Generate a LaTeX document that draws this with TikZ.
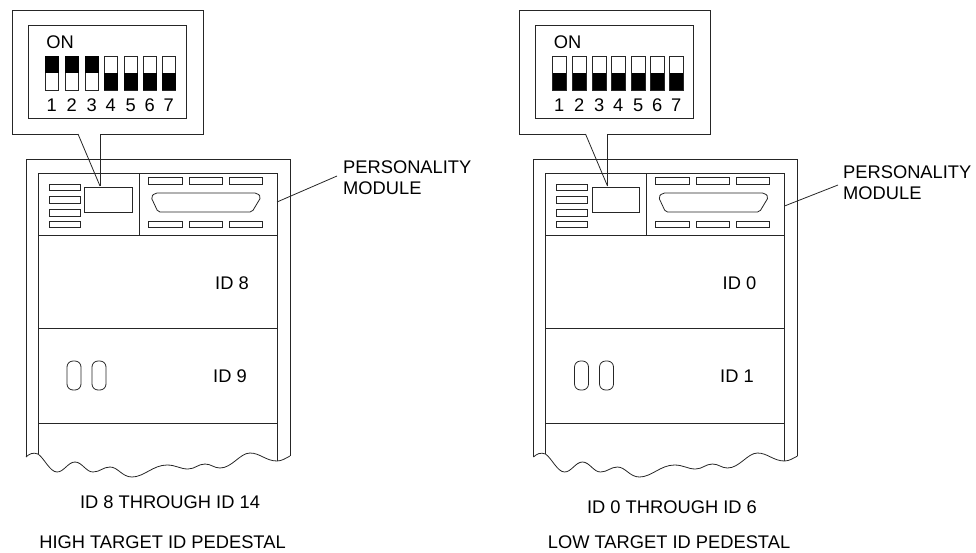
\documentclass[tikz,border=0pt]{standalone}
\usepackage{fontspec}
\setmainfont{Liberation Sans}
\tikzset{
  x=1pt,y=-1pt,
  unitline/.style={draw=black!85,line width=0.8pt},
  slotbox/.style={draw=black!85,line width=0.8pt,fill=white},
  swoff/.style={draw=black!85,line width=0.8pt},
  lab/.style={font=\fontsize{18.3}{20}\selectfont,inner sep=0pt},
}
% one pedestal: callout, module, two drawers, torn edge
\newcommand{\pedestal}[1]{
  \draw[unitline] (26,457) -- (26,159) -- (290,159) -- (290,456);
  \draw[unitline] (38,454) -- (38,173) -- (277,173) -- (277,461);
  \draw[unitline] (38,235) -- (277,235);
  \draw[unitline] (139,173) -- (139,235);
  \draw[unitline] (38,328) -- (277,328);
  \draw[unitline] (38,423) -- (277,423);
  % torn edge
  \draw[unitline] (26,457) .. controls (29,454) and (33,452) .. (38,454)
    .. controls (44,458) and (50,472) .. (57,472)
    .. controls (64,472) and (68,462) .. (75,462)
    .. controls (82,462) and (86,472) .. (93,472)
    .. controls (100,472) and (103,467) .. (110,467)
    .. controls (118,467) and (122,477) .. (132,477)
    .. controls (144,477) and (153,465) .. (167,465)
    .. controls (176,465) and (180,469) .. (188,469)
    .. controls (195,469) and (198,464) .. (205,464)
    .. controls (211,464) and (214,468) .. (220,468)
    .. controls (232,468) and (240,453) .. (250,453)
    .. controls (260,453) and (266,461) .. (277,461)
    .. controls (282,461) and (286,458) .. (290,456);
  % module
  \draw[slotbox] (84.5,187) rectangle (132,212);
  \foreach \ya/\yb in {184/190,196/203,209/216,221/227}
    \draw[slotbox] (49,\ya) rectangle (80,\yb);
  \foreach \xa/\xb in {148/182,189/222,229/262} {
    \draw[slotbox] (\xa,177) rectangle (\xb,184);
    \draw[slotbox] (\xa,221) rectangle (\xb,227);
  }
  \draw[unitline,rounded corners=2pt] (151,197) -- (155,193) -- (257,193) -- (261,197) -- (252,212) -- (158,212) -- cycle;
  % handles
  \foreach \xa in {67,92}
    \draw[unitline,rounded corners=6pt] (\xa,361) rectangle ++(14,29);
  % callout
  \draw[unitline] (78,134) -- (12,134) -- (12,10) -- (203,10) -- (203,134) -- (100,134);
  \draw[unitline] (78,134) -- (100,186);
  \draw[unitline] (100,134) -- (100,186);
  \draw[unitline] (28,25) rectangle (186,118);
  \node[lab] at (60,42) {ON};
  \foreach \n/\xa/\st in {#1} {
    \draw[swoff] (\xa,56) rectangle ++(13.5,34);
    \ifnum\st=1
      \fill[black] (\xa,56) rectangle ++(13.5,16.5);
    \else
      \fill[black] (\xa,72.5) rectangle ++(13.5,17.5);
    \fi
    \node[lab] at (\xa+6.8,105) {\n};
  }
}
\begin{document}
\begin{tikzpicture}
\useasboundingbox (0,0) rectangle (976,552);
% high target
\pedestal{1/45/1,2/65/1,3/85/1,4/104/0,5/124/0,6/143/0,7/162/0}
\node[lab,anchor=west] (perhigh) at (343,167) {PERSONALITY};
\node[lab,anchor=west] (modhigh) at (343,188) {MODULE};
\coordinate (edgehigh) at (277,202);
\coordinate (tiphigh) at (337,176);
\draw[unitline] (edgehigh) -- (tiphigh);
\node[lab] (idA) at (232,283) {ID 8};
\node[lab] (idB) at (230,376) {ID 9};
\node[lab] (rangehigh) at (170,502) {ID 8 THROUGH ID 14};
\node[lab] (namehigh) at (162.5,542.5) {HIGH TARGET ID PEDESTAL};
% low target
\begin{scope}[xshift=507.5pt]
\pedestal{1/45/0,2/65/0,3/85/0,4/104/0,5/124/0,6/143/0,7/162/0}
\end{scope}
\node[lab,anchor=west] (perlow) at (843,172) {PERSONALITY};
\node[lab,anchor=west] (modlow) at (843,193) {MODULE};
\coordinate (edgelow) at (784.5,206);
\coordinate (tiplow) at (838,185);
\draw[unitline] (edgelow) -- (tiplow);
\node[lab] (idC) at (739.5,283) {ID 0};
\node[lab] (idD) at (737,376) {ID 1};
\node[lab] (rangelow) at (672,507) {ID 0 THROUGH ID 6};
\node[lab] (namelow) at (669,542.5) {LOW TARGET ID PEDESTAL};
\end{tikzpicture}
\end{document}
